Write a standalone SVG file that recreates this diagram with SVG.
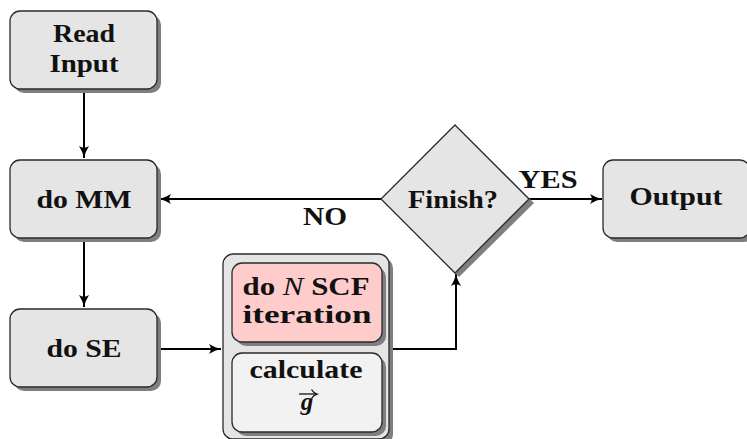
<svg xmlns="http://www.w3.org/2000/svg" width="747" height="439" viewBox="0 0 747 439">
<style>
.box{fill:#e5e5e5;stroke:#2a2a2a;stroke-width:1.3}
.sh{fill:#7f7f7f}
.t{font-family:"Liberation Serif","DejaVu Serif",serif;font-weight:bold;font-size:25px;fill:#111;text-anchor:middle}
.e{fill:none;stroke:#000;stroke-width:2}
</style>
<defs>
<marker id="ah" viewBox="0 0 13 11" refX="12" refY="5.5" markerWidth="13" markerHeight="11" markerUnits="userSpaceOnUse" orient="auto">
<path d="M0,0.5 Q6,4.3 12,5.5 Q6,6.7 0,10.5 Q3.5,5.5 0,0.5 Z" fill="#000"/>
</marker>
</defs>
<rect width="747" height="439" fill="#fff"/>
<g id="connectors">
<line class="e" x1="84" y1="89" x2="84" y2="158" marker-end="url(#ah)"/>
<line class="e" x1="84" y1="238" x2="84" y2="307" marker-end="url(#ah)"/>
<line class="e" x1="157" y1="349" x2="221" y2="349" marker-end="url(#ah)"/>
<polyline class="e" points="389,349 456,349 456,274" marker-end="url(#ah)"/>
<line class="e" x1="381" y1="199" x2="159" y2="199" marker-end="url(#ah)"/>
<line class="e" x1="529" y1="199" x2="602" y2="199" marker-end="url(#ah)"/>
<text class="t" x="325" y="225" textLength="44" lengthAdjust="spacingAndGlyphs">NO</text>
<text class="t" x="548" y="188" textLength="59" lengthAdjust="spacingAndGlyphs">YES</text>
</g>
<g id="read">
<rect class="sh" x="14" y="15" width="147" height="78" rx="10"/>
<rect class="box" x="10" y="11" width="147" height="78" rx="10"/>
<text class="t" x="84" y="42" textLength="62" lengthAdjust="spacingAndGlyphs">Read</text>
<text class="t" x="84" y="72" textLength="69" lengthAdjust="spacingAndGlyphs">Input</text>
</g>
<g id="mm">
<rect class="sh" x="14" y="164" width="147" height="78" rx="10"/>
<rect class="box" x="10" y="160" width="147" height="78" rx="10"/>
<text class="t" x="84" y="208" textLength="95" lengthAdjust="spacingAndGlyphs">do MM</text>
</g>
<g id="se">
<rect class="sh" x="14" y="313" width="147" height="78" rx="10"/>
<rect class="box" x="10" y="309" width="147" height="78" rx="10"/>
<text class="t" x="84" y="357" textLength="75" lengthAdjust="spacingAndGlyphs">do SE</text>
</g>
<g id="loop">
<rect class="sh" x="227" y="258" width="166" height="186" rx="10"/>
<rect class="box" x="223" y="254" width="166" height="185" rx="10"/>
<rect class="sh" x="236" y="267" width="150" height="79" rx="10"/>
<rect class="box" x="232" y="263" width="150" height="79" rx="10" style="fill:#ffcccc"/>
<text class="t" x="306" y="295" textLength="127" lengthAdjust="spacingAndGlyphs">do <tspan font-style="italic" font-weight="normal">N</tspan> SCF</text>
<text class="t" x="307" y="323" textLength="129" lengthAdjust="spacingAndGlyphs">iteration</text>
<rect class="sh" x="236" y="357" width="150" height="79" rx="10"/>
<rect class="box" x="232" y="353" width="150" height="79" rx="10" style="fill:#f2f2f2"/>
<text class="t" x="306" y="378" textLength="113" lengthAdjust="spacingAndGlyphs">calculate</text>
<text class="t" x="307" y="410" font-style="italic" font-weight="normal" font-size="27">g</text>
<line x1="299" y1="394" x2="316" y2="394" stroke="#111" stroke-width="1.3"/>
<path d="M311.5,389.5 Q313.5,393 317,394 Q313.5,395 311.5,398.5" fill="none" stroke="#111" stroke-width="1.3"/>
</g>
<g id="finish">
<polygon class="sh" points="459,129 534,203 459,277 385,203"/>
<polygon class="box" points="455,125 529,199 455,273 381,199"/>
<text class="t" x="453" y="208" textLength="90" lengthAdjust="spacingAndGlyphs">Finish?</text>
</g>
<g id="output">
<rect class="sh" x="607" y="164" width="147" height="78" rx="10"/>
<rect class="box" x="603" y="160" width="147" height="78" rx="10"/>
<text class="t" x="676" y="205" textLength="93" lengthAdjust="spacingAndGlyphs">Output</text>
</g>
</svg>
